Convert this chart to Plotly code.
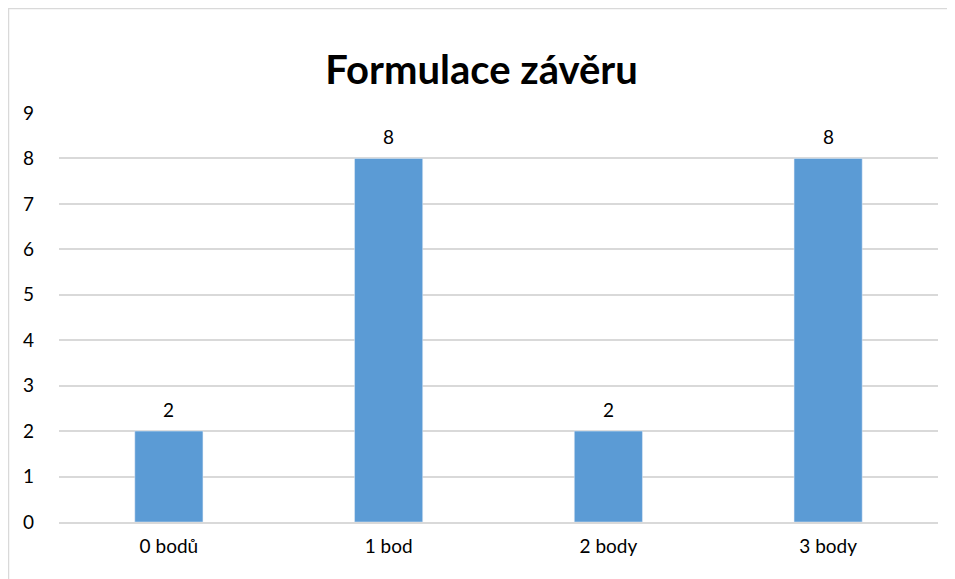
import plotly.graph_objects as go

categories = ["0 bodů", "1 bod", "2 body", "3 body"]
values = [2, 8, 2, 8]
y_ticks = [0, 1, 2, 3, 4, 5, 6, 7, 8, 9]

W, H = 947, 571
L, T = 51, 105
pw, ph = 879, 409
R = W - L - pw
B = H - T - ph

fig = go.Figure(go.Bar(
    x=categories, y=values, marker_color="#5B9BD5", width=0.31,
))

for c, v in zip(categories, values):
    fig.add_annotation(x=c, y=v, text=str(v), showarrow=False,
                       yanchor="bottom", yshift=8, font=dict(size=19, color="#000000"))

border = dict(color="#D9D9D9", width=2.5)
x_left = -L / pw
x_right = (W + 40 - L) / pw
y_top = 1 + T / ph
y_bot = -(B + 40) / ph

fig.update_layout(
    width=W, height=H,
    margin=dict(l=L, r=R, t=T, b=B),
    paper_bgcolor="white", plot_bgcolor="white",
    font=dict(family="Lato, Liberation Sans, sans-serif", size=19, color="#000000"),
    title=dict(text="<b>Formulace závěru</b>", x=0.5, xanchor="center",
               y=1 - 62 / H, yanchor="middle", font=dict(size=40)),
    showlegend=False,
    xaxis=dict(showgrid=False, showline=True, linecolor="#D9D9D9", linewidth=1.5,
               ticks="", tickfont=dict(size=19), ticklabelstandoff=6),
    yaxis=dict(range=[0, 9], tickvals=y_ticks, showgrid=True, gridcolor="#D9D9D9",
               gridwidth=1.5, zeroline=False, showline=False, ticks="",
               tickfont=dict(size=19), ticklabelstandoff=24),
    shapes=[
        dict(type="line", xref="paper", yref="paper", x0=x_left, x1=x_right,
             y0=y_top, y1=y_top, line=border, layer="below"),
        dict(type="line", xref="paper", yref="paper", x0=x_left, x1=x_left,
             y0=y_bot, y1=y_top, line=border, layer="below"),
    ],
)

fig.write_html("out.html")
